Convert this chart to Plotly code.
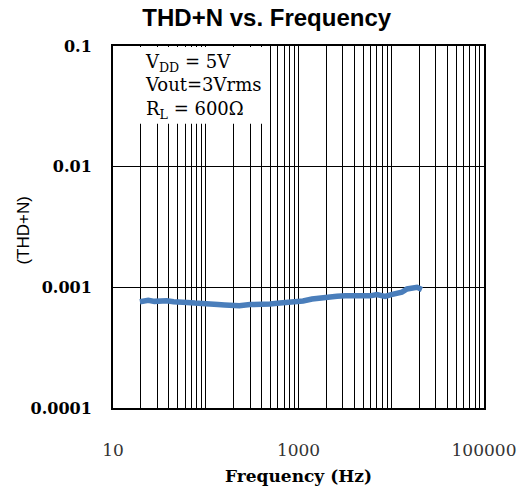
import plotly.graph_objects as go

# Data
freq_hz = [19.5, 24, 28, 32, 38, 45, 53, 63, 76, 90, 111, 135, 160, 182, 230, 300, 380,
           493, 631, 800, 1000, 1119, 1400, 1706, 2100, 2600, 3200, 4065, 5000, 5900,
           7000, 8570, 10000, 11530, 13000, 14790, 16500, 18970, 21400]
thdn = [0.00076, 0.00078, 0.000765, 0.00077, 0.000775, 0.00076, 0.00076, 0.00075, 0.00074,
        0.00073, 0.000715, 0.00072, 0.000715, 0.000712, 0.000705, 0.00072, 0.000715,
        0.000727, 0.00074, 0.000745, 0.00076, 0.00077, 0.0008, 0.00082, 0.00083, 0.000842,
        0.00085, 0.00085, 0.000845, 0.00085, 0.00087, 0.00084, 0.00087, 0.00088, 0.00091,
        0.00097, 0.00099, 0.001, 0.00096]

x_tick_vals = [10, 1000, 100000]
x_tick_text = ["10", "1000", "100000"]
x_grid_vals = [m * 10 ** e for e in range(1, 5) for m in range(1, 10)]
y_tick_vals = [0.0001, 0.001, 0.01, 0.1]
y_tick_text = ["0.0001", "0.001", "0.01", "0.1"]

SERIF = "DejaVu Serif"
SANS = "Liberation Sans, Arial"

fig = go.Figure()
fig.add_trace(go.Scatter(x=freq_hz, y=thdn, mode="lines",
                         line=dict(color="#4a7ebb", width=5.5), showlegend=False,
                         hoverinfo="skip"))

fig.update_layout(
    width=523, height=494,
    margin=dict(l=113, r=39, t=46, b=86, autoexpand=False),
    paper_bgcolor="white", plot_bgcolor="white",
    title=dict(text="<b>THD+N vs. Frequency</b>", x=0.51, xanchor="center",
               y=1 - 18 / 494, yanchor="middle", yref="container",
               font=dict(family=SANS, size=24, color="black")),
    xaxis=dict(type="log", range=[1, 5], tickvals=x_tick_vals, ticktext=x_tick_text,
               showgrid=True, gridcolor="black", gridwidth=1,
               minor=dict(tickvals=x_grid_vals, showgrid=True, gridcolor="black",
                          gridwidth=1, ticks=""),
               showline=True, linecolor="black", linewidth=2, mirror=True,
               ticks="", ticklabelstandoff=26, automargin=False,
               tickfont=dict(family=SERIF, size=17, color="#333333"),
               title=dict(text="<b>Frequency (Hz)</b>", standoff=11,
                          font=dict(family=SERIF, size=17, color="black")),
               zeroline=False),
    yaxis=dict(type="log", range=[-4, -1], tickvals=y_tick_vals,
               ticktext=["<b>%s</b>" % t for t in y_tick_text],
               showgrid=True, gridcolor="black", gridwidth=1,
               showline=True, linecolor="black", linewidth=2, mirror=True,
               ticks="", ticklabelstandoff=16, automargin=False,
               tickfont=dict(family=SERIF, size=16, color="black"),
               zeroline=False),
)

# y-axis title placed as rotated text
fig.add_annotation(xref="paper", yref="paper", x=-0.241, y=0.489, xanchor="center",
                   yanchor="middle", textangle=-90, showarrow=False, text="(THD+N)",
                   font=dict(family=SANS, size=17, color="black"))

# white backing box behind the condition text (hides grid lines)
fig.add_shape(type="rect", xref="paper", yref="paper", x0=0.003, x1=0.423,
              y0=0.785, y1=0.997, fillcolor="white", line=dict(width=0), layer="above")

fig.add_annotation(xref="paper", yref="paper", x=0.082, y=0.992, xanchor="left",
                   yanchor="top", align="left", showarrow=False,
                   text="V<sub>DD</sub> = 5V<br>Vout=3Vrms<br>R<sub>L</sub> = 600Ω",
                   font=dict(family=SERIF, size=18, color="black"))

fig.write_html("out.html", config={"displayModeBar": False},
               post_script="document.body.style.margin='0';")
